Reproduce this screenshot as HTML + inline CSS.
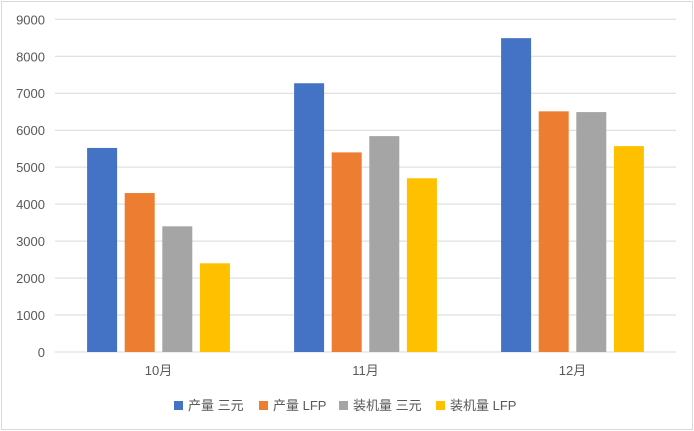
<!DOCTYPE html>
<html><head><meta charset="utf-8"><style>
body{margin:0;background:#fff;}
#c{position:absolute;left:0;top:0;width:694px;height:431px;}
text{font-family:"Liberation Sans","Noto Sans CJK SC",sans-serif;fill:#595959;font-size:13px;}
</style></head><body>
<svg id="c" width="694" height="431">
<rect x="1.5" y="1.5" width="691" height="428" fill="#fff" stroke="#d9d9d9"/>
<g id="grid"></g><g id="bars"></g><g id="axes"></g><g id="legend"></g>
</svg>
<script>
const categories=["10月","11月","12月"];
const seriesNames=["产量 三元","产量 LFP","装机量 三元","装机量 LFP"];
const s1=[5520,7270,8490];
const s2=[4300,5400,6510];
const s3=[3400,5840,6490];
const s4=[2400,4700,5570];
const yTicks=[0,1000,2000,3000,4000,5000,6000,7000,8000,9000];
const colors=["#4472c4","#ed7d31","#a5a5a5","#ffc000"];
const series=[s1,s2,s3,s4];
const NS="http://www.w3.org/2000/svg";
const x0=55,x1=676,y0=352,yTop=19.3,ymax=9000;
const y=v=>y0-(v/ymax)*(y0-yTop);
const catW=(x1-x0)/categories.length;
function mk(t,a,p){const e=document.createElementNS(NS,t);for(const k in a)e.setAttribute(k,a[k]);p.appendChild(e);return e;}
const grid=document.getElementById('grid'),axes=document.getElementById('axes'),bars=document.getElementById('bars'),legend=document.getElementById('legend');
yTicks.forEach(v=>{
 const l=mk('line',{x1:x0,x2:x1,y1:y(v),y2:y(v),stroke:'#d9d9d9','stroke-width':1},grid);
 
 
 const t=mk('text',{x:45,y:y(v)+5,'text-anchor':'end'},axes);t.textContent=v;
 
 
});
const bw=30,gap=7.6;
categories.forEach((c,i)=>{
 const cx=x0+catW*(i+0.5);
 const total=4*bw+3*gap;
 series.forEach((s,j)=>{
  const bx=cx-total/2+j*(bw+gap);
  const r=mk('rect',{x:bx,y:y(s[i]),width:bw,height:y0-y(s[i]),fill:colors[j]},bars);
  
  
 });
 const t=mk('text',{x:cx,y:375,'text-anchor':'middle'},axes);t.textContent=c;
 
 
});
let lx=174;
const widths=[85,80,97,90];
seriesNames.forEach((n,j)=>{
 const r=mk('rect',{x:lx,y:401,width:9,height:9,fill:colors[j]},legend);
 
 
 const t=mk('text',{x:lx+14,y:410},legend);t.textContent=n;
 
 
 lx+=widths[j];
});
</script>
</body></html>
